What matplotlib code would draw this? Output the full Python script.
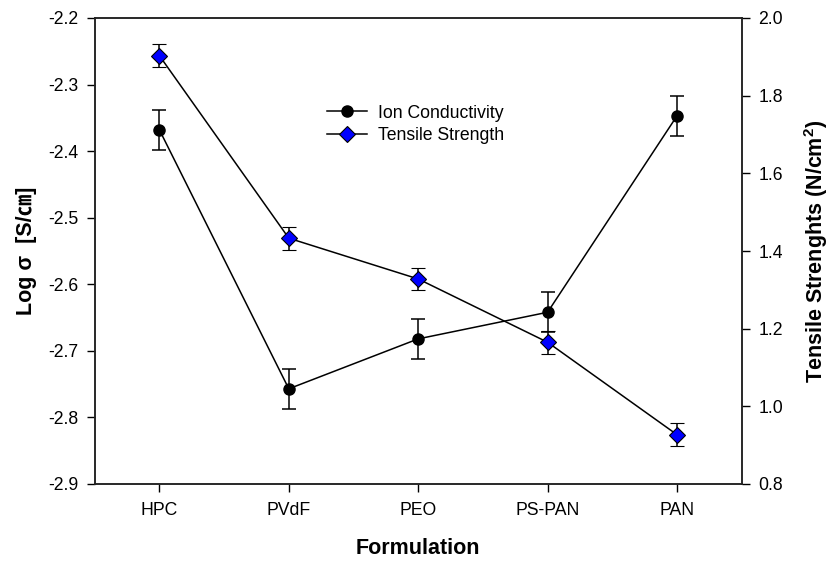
#!/usr/bin/env python3
"""Ion conductivity and tensile strength per formulation, dual y-axis chart."""

import matplotlib

matplotlib.use("Agg")
import matplotlib.pyplot as plt  # noqa: E402
import numpy as np  # noqa: E402

formulations = ["HPC", "PVdF", "PEO", "PS-PAN", "PAN"]
ion_conductivity = [-2.368, -2.757, -2.682, -2.642, -2.347]
ion_conductivity_err = [0.030, 0.030, 0.030, 0.030, 0.030]
tensile_strength = [1.903, 1.433, 1.328, 1.165, 0.927]
tensile_strength_err = [0.030, 0.030, 0.029, 0.030, 0.029]

left_ticks = [-2.9, -2.8, -2.7, -2.6, -2.5, -2.4, -2.3, -2.2]
right_ticks = [0.8, 1.0, 1.2, 1.4, 1.6, 1.8, 2.0]

plt.rcParams["font.family"] = ["Liberation Sans", "Noto Sans CJK JP", "DejaVu Sans"]
plt.rcParams["mathtext.default"] = "regular"

TICK_SIZE = 12.7
LABEL_SIZE = 15.5


def main() -> None:
    fig = plt.figure(figsize=(8.32, 5.62), dpi=100)
    ax = fig.add_axes([94.7 / 832, 78 / 562, 647 / 832, 466 / 562])
    ax2 = ax.twinx()

    x = np.arange(len(formulations))

    ion = ax.errorbar(
        x, ion_conductivity, yerr=ion_conductivity_err,
        fmt="-o", color="black", lw=1.1, markersize=8,
        capsize=5.3, capthick=1.1, elinewidth=1.1,
        label="Ion Conductivity",
    )
    tens = ax2.errorbar(
        x, tensile_strength, yerr=tensile_strength_err,
        fmt="-D", color="black", lw=1.1, markersize=8,
        markerfacecolor="#0000FF", markeredgecolor="black", markeredgewidth=0.8,
        capsize=5.3, capthick=1.1, elinewidth=1.1,
        label="Tensile Strength",
    )

    ax.set_xlim(-0.5, 4.5)
    ax.set_ylim(-2.9, -2.2)
    ax2.set_ylim(0.8, 2.0)

    ax.set_xticks(x)
    ax.set_xticklabels(formulations)
    ax.set_yticks(left_ticks)
    ax.set_yticklabels([f"{v:.1f}" for v in left_ticks])
    ax2.set_yticks(right_ticks)
    ax2.set_yticklabels([f"{v:.1f}" for v in right_ticks])

    ax.tick_params(axis="x", direction="out", length=6, width=1,
                   labelsize=TICK_SIZE, pad=7, top=False)
    ax.tick_params(axis="y", direction="out", length=6, width=1,
                   labelsize=TICK_SIZE, pad=6)
    ax2.tick_params(axis="y", direction="out", length=6, width=1,
                    labelsize=TICK_SIZE, pad=6)

    for a in (ax, ax2):
        for spine in a.spines.values():
            spine.set_linewidth(1.1)
            spine.set_color("#222222")

    ax.set_xlabel("Formulation", fontsize=LABEL_SIZE, fontweight="bold", labelpad=14)
    ax.set_ylabel("Log σ  [S/㎝]", fontsize=LABEL_SIZE, fontweight="bold", labelpad=8)
    ax2.set_ylabel("Tensile Strenghts (N/cm$^2$)", fontsize=LABEL_SIZE,
                   fontweight="bold", labelpad=14)

    ax2.legend(
        handles=[ion[0], tens[0]],
        labels=["Ion Conductivity", "Tensile Strength"],
        loc="upper left", bbox_to_anchor=(0.345, 0.833),
        frameon=False, fontsize=TICK_SIZE, borderpad=0,
        handlelength=2.3, handletextpad=0.6, labelspacing=0.3,
    )

    fig.savefig("out.png", dpi=100)
    plt.close(fig)


if __name__ == "__main__":
    main()
